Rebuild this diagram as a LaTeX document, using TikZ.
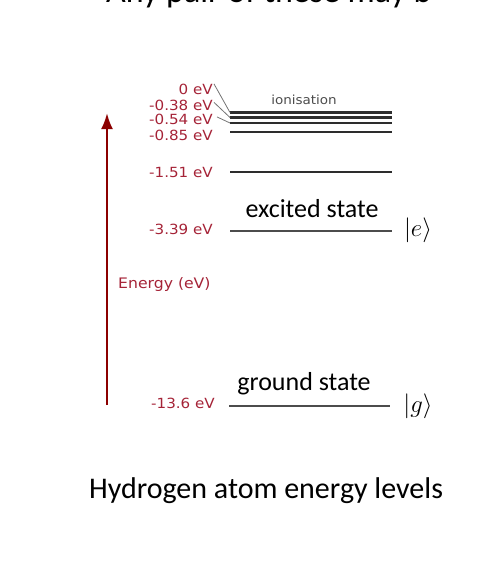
\documentclass[tikz,border=0pt]{standalone}
\usepackage{fontspec}
\setmainfont{Carlito}
\newfontfamily\evfont[FakeStretch=1.08]{DejaVu Sans}
\usepackage{tikz}
\usetikzlibrary{arrows.meta,positioning}
\definecolor{evred}{RGB}{165,35,55}
\definecolor{axisred}{RGB}{140,0,0}
\definecolor{leveldark}{RGB}{45,45,45}
\tikzset{
  level/.style={draw=leveldark, line width=2.4pt},
  thinlevel/.style={draw=leveldark!85, line width=1.5pt},
  evlabel/.style={anchor=base east, inner sep=0pt, text=evred, font=\evfont\fontsize{14}{16}\selectfont},
  leader/.style={draw=black!55, line width=0.8pt},
  statelabel/.style={anchor=base, inner sep=0pt, font=\fontsize{26}{30}\selectfont},
  ket/.style={anchor=center, inner sep=0pt, font=\fontsize{31}{36}\selectfont},
  axisarrow/.style={-{Latex[length=16pt,width=12pt]}, draw=axisred, line width=2.4pt}
}

\begin{document}
\begin{tikzpicture}[x=1pt,y=-1pt]
\clip (0,0) rectangle (484,574);
\node[anchor=base west, inner sep=0pt, font=\fontsize{34}{40}\selectfont] (head) at (106,2) {Any pair of these may b};

% energy axis
\coordinate (axbot) at (107,405);
\coordinate (axtop) at (107,113);
\draw[axisarrow] (axbot) -- (axtop);
\node[anchor=base west, inner sep=0pt, text=evred, font=\evfont\fontsize{14.5}{16}\selectfont] (axlbl) at (118,288) {Energy (eV)};

% levels
\foreach \nm/\y in {n0/112.5, n38/117.5, n54/123, n85/132, n151/172}
  \draw[level] (230,\y) coordinate (\nm a) -- (392,\y) coordinate (\nm b);
\draw[thinlevel] (230,231) coordinate (e a) -- (392,231) coordinate (e b);
\draw[thinlevel, line width=1.8pt] (229,406) coordinate (g a) -- (390,406) coordinate (g b);

\node[anchor=center, inner sep=0pt, text=black!70, font=\evfont\fontsize{12.5}{14}\selectfont] (ion) at (304,100) {ionisation};

% energy values
\node[evlabel] (v0) at (213,94) {0 eV};
\node[evlabel] (v38) at (213,110.5) {-0.38 eV};
\node[evlabel] (v54) at (213,124) {-0.54 eV};
\node[evlabel] (v85) at (213,140) {-0.85 eV};
\node[evlabel] (v151) at (213,177.5) {-1.51 eV};
\node[evlabel] (v339) at (213,234.5) {-3.39 eV};
\node[evlabel] (v136) at (215,408.5) {-13.6 eV};

\draw[leader] (v0.east) ++(1,-5) coordinate (l0) -- (n0a);
\draw[leader] (v38.east) ++(1,-3) coordinate (l38) -- (n38a);
\draw[leader] (v54.east) ++(4,-2) coordinate (l54) -- (n54a);

% states
\node[statelabel] (exc) at (312,217) {excited state};
\node[statelabel] (gnd) at (304,390) {ground state};
\node[ket] (kete) at (418,230) {$|e\rangle$};
\node[ket] (ketg) at (418,406) {$|g\rangle$};

\node[anchor=base, inner sep=0pt, font=\fontsize{30}{35}\selectfont] (title) at (266,498) {Hydrogen atom energy levels};
\end{tikzpicture}
\end{document}
